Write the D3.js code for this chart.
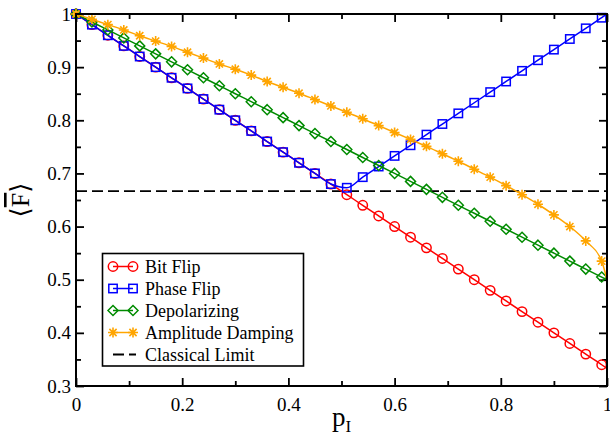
<!DOCTYPE html>
<html>
<head>
<meta charset="utf-8">
<script src="https://cdn.jsdelivr.net/npm/d3@7"></script>
<style>
  html, body { margin: 0; padding: 0; background: #fff; }
  svg { display: block; }
  text { font-family: "Liberation Serif", "DejaVu Serif", serif; fill: #000; }
</style>
</head>
<body>
<svg id="chart" width="610" height="437"></svg>
<script>
// Sampled noise strength p_I
const pValues = [0, 0.03, 0.06, 0.09, 0.12, 0.15, 0.18, 0.21, 0.24, 0.27, 0.30, 0.33,
  0.36, 0.39, 0.42, 0.45, 0.48, 0.51, 0.54, 0.57, 0.60, 0.63, 0.66, 0.69, 0.72,
  0.75, 0.78, 0.81, 0.84, 0.87, 0.90, 0.93, 0.96, 0.99];

// Average teleportation fidelity for each noise channel
const bitFlip = [1.000, 0.980, 0.960, 0.940, 0.920, 0.900, 0.880, 0.860, 0.840, 0.820,
  0.800, 0.780, 0.760, 0.740, 0.720, 0.700, 0.680, 0.660, 0.640, 0.620, 0.600, 0.580,
  0.560, 0.540, 0.520, 0.500, 0.480, 0.460, 0.440, 0.420, 0.400, 0.380, 0.360, 0.340];
const phaseFlip = [1.000, 0.980, 0.960, 0.940, 0.920, 0.900, 0.880, 0.860, 0.840, 0.820,
  0.800, 0.780, 0.760, 0.740, 0.720, 0.700, 0.680, 0.673, 0.693, 0.713, 0.733, 0.753,
  0.773, 0.793, 0.813, 0.833, 0.853, 0.873, 0.893, 0.913, 0.933, 0.953, 0.973, 0.993];
const depolarizing = [1.000, 0.985, 0.970, 0.955, 0.940, 0.925, 0.910, 0.895, 0.880,
  0.865, 0.850, 0.835, 0.820, 0.805, 0.790, 0.775, 0.760, 0.745, 0.730, 0.715, 0.700,
  0.685, 0.670, 0.655, 0.640, 0.625, 0.610, 0.595, 0.580, 0.565, 0.550, 0.535, 0.520, 0.505];
const amplitudeDamping = [1.000, 0.990, 0.980, 0.970, 0.959, 0.949, 0.939, 0.928, 0.917,
  0.906, 0.896, 0.885, 0.873, 0.862, 0.851, 0.839, 0.827, 0.815, 0.803, 0.790, 0.777,
  0.764, 0.751, 0.737, 0.723, 0.708, 0.693, 0.677, 0.660, 0.642, 0.622, 0.600, 0.573, 0.535];

// Values of each curve at the end of the range, p_I = 1
const endP = 1;
const endValues = [0.333, 1.000, 0.500, 0.500];

const classicalLimit = 0.6667;

const seriesNames = ["Bit Flip", "Phase Flip", "Depolarizing", "Amplitude Damping"];
const seriesColors = ["#ff0000", "#0000ff", "#008b00", "#ffa500"];
const seriesSymbols = ["circle", "square", "diamond", "star"];
const limitLabel = "Classical Limit";

const xTicks = [0, 0.2, 0.4, 0.6, 0.8, 1];
const xTickLabels = ["0", "0.2", "0.4", "0.6", "0.8", "1"];
const yTicks = [0.3, 0.4, 0.5, 0.6, 0.7, 0.8, 0.9, 1];
const yTickLabels = ["0.3", "0.4", "0.5", "0.6", "0.7", "0.8", "0.9", "1"];

const seriesValues = [bitFlip, phaseFlip, depolarizing, amplitudeDamping];

const svg = d3.select("#chart");
const margin = { left: 76, top: 14, right: 3, bottom: 51 };
const W = 610 - margin.left - margin.right;
const H = 437 - margin.top - margin.bottom;

const x = d3.scaleLinear().domain([0, 1]).range([0, W]);
const y = d3.scaleLinear().domain([0.3, 1]).range([H, 0]);

const g = svg.append("g").attr("transform", `translate(${margin.left},${margin.top})`);

// Axes with inward ticks on all four sides
const majorLen = 8, minorLen = 5;
const xMinor = d3.range(0.1, 1, 0.2);
const yMinor = d3.range(0.35, 1, 0.1);

function styleAxis(sel) {
  sel.select(".domain").remove();
  sel.selectAll(".tick line").attr("stroke", "#000").attr("stroke-width", 1.8);
}

g.append("g").attr("transform", `translate(0,${H})`)
  .call(d3.axisBottom(x).tickValues(xTicks).tickSizeInner(-majorLen).tickSizeOuter(0)
    .tickPadding(majorLen + 4).tickFormat((d, i) => xTickLabels[i]))
  .call(styleAxis)
  .call(s => s.selectAll("text").attr("font-size", 19).attr("font-family", "Liberation Serif"));
g.append("g").attr("transform", `translate(0,${H})`)
  .call(d3.axisBottom(x).tickValues(xMinor).tickSizeInner(-minorLen).tickSizeOuter(0).tickFormat(""))
  .call(styleAxis);
g.append("g")
  .call(d3.axisTop(x).tickValues(xTicks).tickSizeInner(-majorLen).tickSizeOuter(0).tickFormat(""))
  .call(styleAxis);
g.append("g")
  .call(d3.axisTop(x).tickValues(xMinor).tickSizeInner(-minorLen).tickSizeOuter(0).tickFormat(""))
  .call(styleAxis);

g.append("g")
  .call(d3.axisLeft(y).tickValues(yTicks).tickSizeInner(-majorLen).tickSizeOuter(0)
    .tickPadding(5).tickFormat((d, i) => yTickLabels[i]))
  .call(styleAxis)
  .call(s => s.selectAll("text").attr("font-size", 19).attr("font-family", "Liberation Serif"));
g.append("g")
  .call(d3.axisLeft(y).tickValues(yMinor).tickSizeInner(-minorLen).tickSizeOuter(0).tickFormat(""))
  .call(styleAxis);
g.append("g").attr("transform", `translate(${W},0)`)
  .call(d3.axisRight(y).tickValues(yTicks).tickSizeInner(-majorLen).tickSizeOuter(0).tickFormat(""))
  .call(styleAxis);
g.append("g").attr("transform", `translate(${W},0)`)
  .call(d3.axisRight(y).tickValues(yMinor).tickSizeInner(-minorLen).tickSizeOuter(0).tickFormat(""))
  .call(styleAxis);

// Classical limit
g.append("line")
  .attr("x1", x(0)).attr("x2", x(1))
  .attr("y1", y(classicalLimit)).attr("y2", y(classicalLimit))
  .attr("stroke", "#000").attr("stroke-width", 1.8).attr("stroke-dasharray", "11,5");

// Marker drawing
function drawSymbol(sel, kind, color) {
  const r = 4.7;
  if (kind === "circle") {
    sel.append("circle").attr("r", r).attr("fill", "none").attr("stroke", color).attr("stroke-width", 1.5);
  } else if (kind === "square") {
    sel.append("rect").attr("x", -4.2).attr("y", -4.2).attr("width", 8.4).attr("height", 8.4)
      .attr("fill", "none").attr("stroke", color).attr("stroke-width", 1.5);
  } else if (kind === "diamond") {
    sel.append("path").attr("d", "M0,-5L5,0L0,5L-5,0Z")
      .attr("fill", "none").attr("stroke", color).attr("stroke-width", 1.5);
  } else {
    const s = 5, d = 3.6;
    sel.append("path")
      .attr("d", `M${-s},0L${s},0M0,${-s}L0,${s}M${-d},${-d}L${d},${d}M${-d},${d}L${d},${-d}`)
      .attr("fill", "none").attr("stroke", color).attr("stroke-width", 1.6);
  }
}

const line = d3.line().x(d => x(d[0])).y(d => y(d[1])).curve(d3.curveMonotoneX);

seriesValues.forEach((vals, si) => {
  const pts = pValues.map((p, i) => [p, vals[i]]);
  const color = seriesColors[si];
  const linePts = pts.concat([[endP, endValues[si]]]);
  const sg = g.append("g");
  sg.append("path").datum(linePts).attr("d", line)
    .attr("fill", "none").attr("stroke", color).attr("stroke-width", 1.5);
  sg.selectAll("g.m").data(pts).join("g").attr("class", "m")
    .attr("transform", d => `translate(${x(d[0])},${y(d[1])})`)
    .each(function () { drawSymbol(d3.select(this), seriesSymbols[si], color); });
});

// Frame
g.append("rect").attr("x", 0).attr("y", 0).attr("width", W).attr("height", H)
  .attr("fill", "none").attr("stroke", "#000").attr("stroke-width", 2);

// Legend
const lg = svg.append("g");
lg.append("rect").attr("x", 102.5).attr("y", 253.5).attr("width", 201).attr("height", 112.5)
  .attr("fill", "#fff").attr("stroke", "#000").attr("stroke-width", 1.6);
const rowY = [266.5, 288.5, 310.5, 332.5, 354.5];
seriesNames.forEach((name, i) => {
  const ry = rowY[i];
  lg.append("line").attr("x1", 113).attr("x2", 133).attr("y1", ry).attr("y2", ry)
    .attr("stroke", seriesColors[i]).attr("stroke-width", 1.5);
  [113, 133].forEach(mx => {
    const m = lg.append("g").attr("transform", `translate(${mx},${ry})`);
    drawSymbol(m, seriesSymbols[i], seriesColors[i]);
  });
  lg.append("text").attr("x", 145).attr("y", ry + 6).attr("font-size", 18).text(name);
});
lg.append("line").attr("x1", 113).attr("x2", 136).attr("y1", rowY[4]).attr("y2", rowY[4])
  .attr("stroke", "#000").attr("stroke-width", 1.8).attr("stroke-dasharray", "11,5");
lg.append("text").attr("x", 145).attr("y", rowY[4] + 6).attr("font-size", 18).text(limitLabel);

// Axis titles
const xt = svg.append("text").attr("x", 332).attr("y", 426).attr("font-size", 27);
xt.append("tspan").text("p");
xt.append("tspan").attr("font-size", 17).attr("dy", 6).text("I");

const yt = svg.append("text").attr("transform", "translate(29,200) rotate(-90)")
  .attr("text-anchor", "middle").attr("font-size", 26);
yt.append("tspan").text("\u27E8");
yt.append("tspan").style("text-decoration", "overline").text("F");
yt.append("tspan").text("\u27E9");
</script>
</body>
</html>
